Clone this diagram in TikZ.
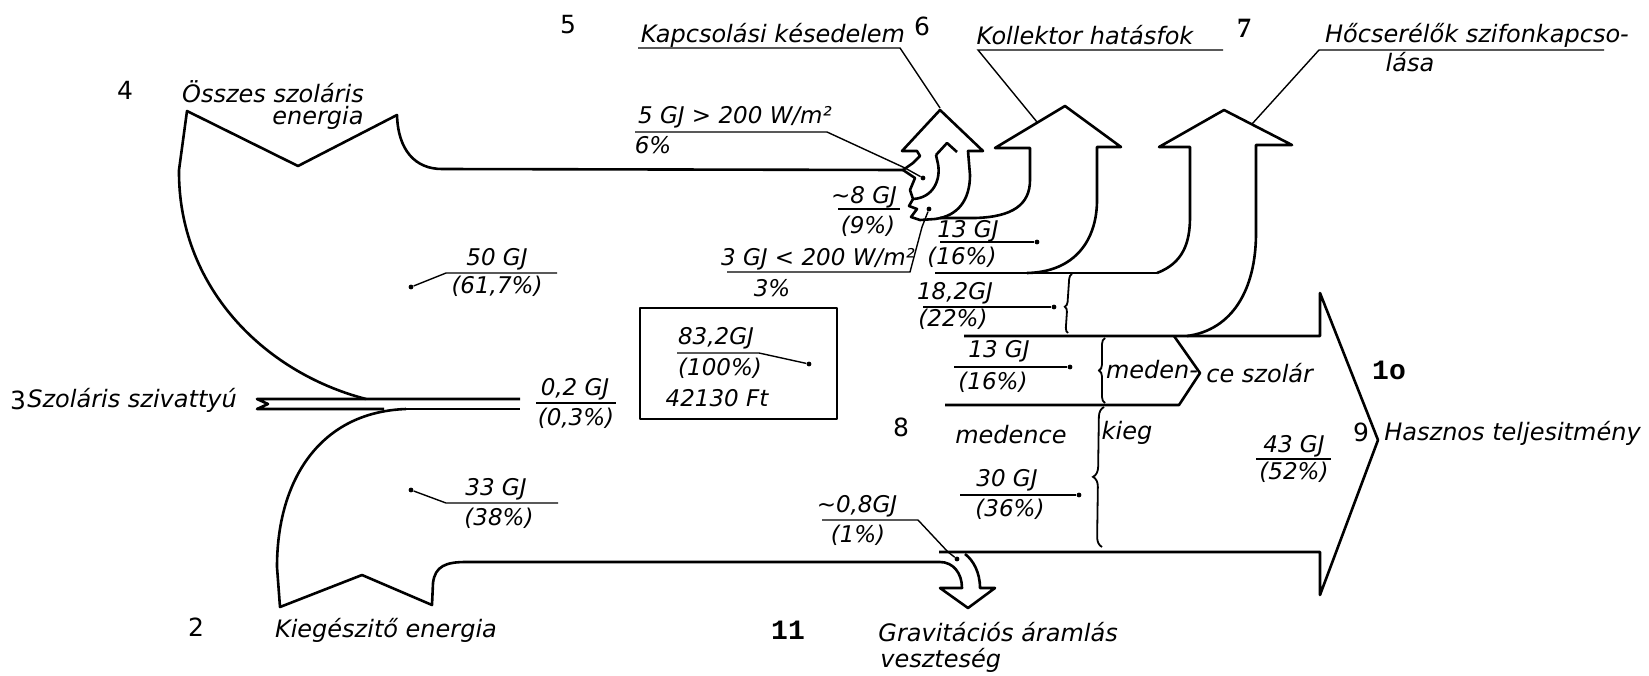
\documentclass[tikz,border=0pt]{standalone}
\usepackage{fontspec}
\setmainfont{DejaVu Sans}
\newfontfamily\serifnum{Liberation Serif}
\newfontfamily\mononum{Liberation Mono}
\usetikzlibrary{decorations.pathreplacing}
\begin{document}
\begin{tikzpicture}[x=0.5pt,y=-0.5pt,
  band/.style={line width=1.3pt,line join=round},
  thinl/.style={line width=0.7pt},
  brc/.style={line width=0.9pt,decorate},
  dot/.style={circle,fill,inner sep=0pt,minimum size=2.4pt},
  lbl/.style={font=\itshape\fontsize{12}{14}\selectfont,inner sep=0pt},
  val/.style={font=\itshape\fontsize{11.5}{13}\selectfont,inner sep=0pt},
  num/.style={font=\fontsize{12.5}{14}\selectfont,inner sep=0pt},
  snum/.style={font=\serifnum\bfseries\fontsize{14}{16}\selectfont,inner sep=0pt},
  mnum/.style={font=\mononum\bfseries\fontsize{14}{16}\selectfont,inner sep=0pt}]
\fill[white] (0,0) rectangle (1649,675);
\useasboundingbox (0,0) rectangle (1649,675);

% ---------- top solar band
\draw[band] (366,399) .. controls (262,372) and (178,285) .. (179,170) -- (187,111)
  -- (298,166) -- (397,115) .. controls (398,150) and (415,169) .. (442,169) -- (903,170);
% ---------- solar pump
\draw[band] (520,399) -- (257,399) -- (268,404) -- (257,409) -- (384,409);
\draw[band] (406,409) -- (520,409);
% ---------- bottom band (Kiegeszito) with gravity loss arrow
\draw[band] (406,409) .. controls (320,412) and (277,480) .. (277,567) -- (280,607)
  -- (362,575) -- (432,605) -- (433,583) .. controls (435,566) and (446,562) .. (466,562)
  -- (940,562) .. controls (953,562) and (962,573) .. (962,588) -- (940,588) -- (968,608)
  -- (995,588) -- (980,588) .. controls (980,572) and (973,560) .. (965,554);
% ---------- big output arrow
\draw[band] (939,552) -- (1320,552) -- (1320,595) -- (1378,440) -- (1320,293) -- (1320,336) -- (964,336);
\draw[band] (935,273) -- (1157,273);
\draw[band] (945,405) -- (1179,405) -- (1200,373) -- (1174,336);
% ---------- Kollektor arrow
\draw[band] (940,218) -- (975,218) .. controls (1012,217) and (1030,205) .. (1030,180) -- (1030,148)
  -- (995,148) -- (1065,106) -- (1121,147) -- (1097,147) -- (1097,200)
  .. controls (1097,240) and (1075,272) .. (1027,273);
% ---------- Hocserelo arrow
\draw[band] (1157,273) .. controls (1183,263) and (1190,243) .. (1190,217) -- (1190,147)
  -- (1159,147) -- (1224,110) -- (1292,145) -- (1256,145) -- (1256,233)
  .. controls (1256,290) and (1232,330) .. (1187,336);
% ---------- Kapcsolasi arrow
\draw[band] (935,219) .. controls (958,216) and (970,200) .. (970,175) -- (968,151) -- (983,151)
  -- (940,110) -- (902,151) -- (917,151) -- (920,156) -- (913,163) -- (903,170) -- (915,178)
  -- (910,190) -- (913,199) -- (909,206) -- (917,209) -- (911,217) -- (920,220) -- (935,219);
\draw[band] (913,199) .. controls (933,198) and (941,180) .. (938,164) -- (936,155);
\draw[band] (936,155) -- (947,143) -- (957,152);

% ---------- braces
\draw[brc,decoration={brace,amplitude=2.5pt,aspect=0.44}] (1068,333) -- (1072,274);
\draw[brc,decoration={brace,amplitude=3pt}] (1105,403) -- (1105,338);
\draw[brc,decoration={brace,amplitude=5pt}] (1102,547) -- (1104,407);

% ---------- box
\draw[band] (640,308) rectangle (837,419);

% ---------- headers
\node[num] (n5) at (568,25) {5};
\node[lbl] (tkap) at (773,35) {Kapcsolási késedelem};
\node[num] (n6) at (922,26) {6};
\node[lbl] (tkol) at (1085,35) {Kollektor hatásfok};
\node[snum] (n7) at (1244,28) {7};
\node[lbl] (th1) at (1477,35) {Hőcserélők szifonkapcso-};
\node[lbl] (th2) at (1410,62) {lása};
\coordinate (ukA) at (638,48); \coordinate (ukB) at (900,48); \coordinate (ukC) at (940,108);
\draw[thinl] (ukA) -- (ukB) -- (ukC);
\coordinate (uoA) at (1223,50); \coordinate (uoB) at (978,50); \coordinate (uoC) at (1037,122);
\draw[thinl] (uoA) -- (uoB) -- (uoC);
\coordinate (uhA) at (1604,50); \coordinate (uhB) at (1319,50); \coordinate (uhC) at (1252,124);
\draw[thinl] (uhA) -- (uhB) -- (uhC);

% ---------- left labels
\node[num] (n4) at (125,90) {4};
\node[lbl] (to1) at (273,92) {Összes szoláris};
\node[lbl] (to2) at (318,118) {energia};
\node[num] (n3) at (18,400) {3};
\node[lbl,anchor=west] (tpump) at (27,400) {Szoláris szivattyú};
\node[num] (n2) at (196,627) {2};
\node[lbl] (tkieg2) at (386,630) {Kiegészitő energia};
\node[mnum] (n11) at (788,630) {11};
\node[lbl,anchor=west] (tg1) at (878,632) {Gravitációs áramlás};
\node[lbl,anchor=west] (tg2) at (880,660) {veszteség};

% ---------- right labels
\node[num] (n8) at (901,427) {8};
\node[lbl] (tmed) at (1011,435) {medence};
\node[lbl] (tkieg) at (1127,433) {kieg};
\node[lbl] (tmeden) at (1152,370) {meden-};
\node[lbl,anchor=west] (tszol) at (1206,373) {ce szolár};
\node[mnum] (n10) at (1389,370) {1o};
\node[num] (n9) at (1361,432) {9};
\node[lbl,anchor=west] (thasz) at (1384,433) {Hasznos teljesitmény};

% ---------- values
\node[val] (v5a) at (735,117) {5 GJ > 200 W/m²};
\node[val] (v5b) at (653,145) {6\%};
\node[dot] (d5) at (923,178) {};
\coordinate (f5a) at (635,132); \coordinate (f5b) at (827,132); \coordinate (f5c) at (905,168);
\draw[thinl] (f5a) -- (f5b) -- (f5c) -- (d5);

\node[val] (v8a) at (864,197) {∼8 GJ};
\node[val] (v8b) at (868,226) {(9\%)};
\node[dot] (d8) at (929,209) {};
\coordinate (f8a) at (838,209); \coordinate (f8b) at (900,209);
\draw[thinl] (f8a) -- (f8b);

\node[val] (v3a) at (818,259) {3 GJ < 200 W/m²};
\node[val] (v3b) at (772,288) {3\%};
\coordinate (f3a) at (727,272); \coordinate (f3b) at (910,272); \coordinate (f3c) at (922,227);
\draw[thinl] (f3a) -- (f3b) -- (f3c) -- (d8);

\node[val] (vka) at (968,231) {13 GJ};
\node[val] (vkb) at (962,257) {(16\%)};
\node[dot] (dk) at (1037,242) {};
\coordinate (fk) at (940,242);
\draw[thinl] (fk) -- (dk);

\node[val] (vha) at (955,293) {18,2GJ};
\node[val] (vhb) at (953,319) {(22\%)};
\node[dot] (dh) at (1054,307) {};
\coordinate (fh) at (923,307);
\draw[thinl] (fh) -- (dh);

\node[val] (vma) at (999,351) {13 GJ};
\node[val] (vmb) at (993,382) {(16\%)};
\node[dot] (dm) at (1070,367) {};
\coordinate (fm) at (954,367);
\draw[thinl] (fm) -- (dm);

\node[val] (vsa) at (1007,480) {30 GJ};
\node[val] (vsb) at (1010,509) {(36\%)};
\node[dot] (ds) at (1079,495) {};
\coordinate (fs) at (960,495);
\draw[thinl] (fs) -- (ds);

\node[val] (vga) at (857,506) {∼0,8GJ};
\node[val] (vgb) at (858,535) {(1\%)};
\node[dot] (dg) at (957,559) {};
\coordinate (fga) at (822,520); \coordinate (fgb) at (918,520); \coordinate (fgc) at (948,552);
\draw[thinl] (fga) -- (fgb) -- (fgc) -- (dg);

\node[val] (vua) at (1294,446) {43 GJ};
\node[val] (vub) at (1294,472) {(52\%)};
\coordinate (fua) at (1256,459); \coordinate (fub) at (1331,459);
\draw[thinl] (fua) -- (fub);

\node[val] (vsoa) at (497,259) {50 GJ};
\node[val] (vsob) at (497,286) {(61,7\%)};
\node[dot] (dso) at (411,287) {};
\coordinate (fsoa) at (557,273); \coordinate (fsob) at (446,273);
\draw[thinl] (fsoa) -- (fsob) -- (dso);

\node[val] (vkia) at (496,489) {33 GJ};
\node[val] (vkib) at (499,518) {(38\%)};
\node[dot] (dki) at (411,490) {};
\coordinate (fkia) at (558,503); \coordinate (fkib) at (446,503);
\draw[thinl] (fkia) -- (fkib) -- (dki);

\node[val] (vpa) at (575,389) {0,2 GJ};
\node[val] (vpb) at (576,418) {(0,3\%)};
\coordinate (fpa) at (536,403); \coordinate (fpb) at (616,403);
\draw[thinl] (fpa) -- (fpb);

\node[val] (vba) at (716,338) {83,2GJ};
\node[val] (vbb) at (720,368) {(100\%)};
\node[val] (vbc) at (717,398) {42130 Ft};
\node[dot] (db) at (809,364) {};
\coordinate (fba) at (677,353); \coordinate (fbb) at (759,353);
\draw[thinl] (fba) -- (fbb) -- (db);
\end{tikzpicture}
\end{document}
